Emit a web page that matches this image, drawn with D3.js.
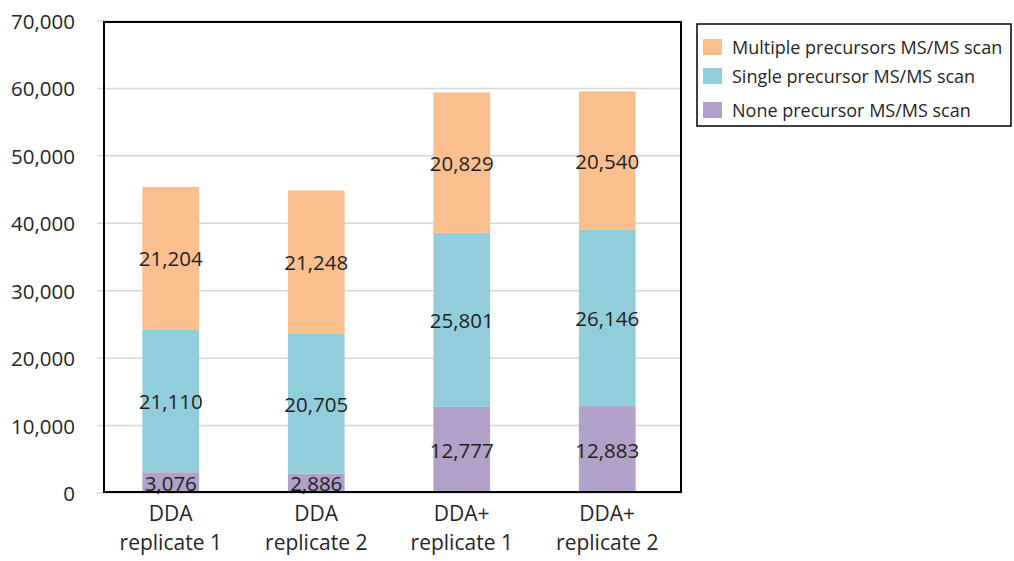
<!DOCTYPE html>
<html>
<head>
<meta charset="utf-8">
<script src="https://cdn.jsdelivr.net/npm/d3@7"></script>
<style>
  html, body { margin: 0; padding: 0; background: #fff; }
  svg { display: block; font-family: "Open Sans", "Noto Sans", sans-serif; }
</style>
</head>
<body>
<svg id="chart" width="1014" height="561"></svg>
<script>
// Scan counts per run, stacked from bottom to top
const categories = [["DDA", "replicate 1"], ["DDA", "replicate 2"], ["DDA+", "replicate 1"], ["DDA+", "replicate 2"]];
const noneValues = [3076, 2886, 12777, 12883];
const singleValues = [21110, 20705, 25801, 26146];
const multipleValues = [21204, 21248, 20829, 20540];
const seriesNames = ["None precursor MS/MS scan", "Single precursor MS/MS scan", "Multiple precursors MS/MS scan"];
const seriesColors = ["#b1a0c7", "#92cddc", "#fabf8f"];
const yTicks = [0, 10000, 20000, 30000, 40000, 50000, 60000, 70000];

const svg = d3.select("#chart");

const x = d3.scaleBand()
  .domain(d3.range(categories.length))
  .range([98, 680])
  .paddingInner(0.61)
  .paddingOuter(0.305);

const y = d3.scaleLinear().domain([0, 70000]).range([493, 21]);

// Gridlines
svg.append("g")
  .selectAll("line")
  .data(yTicks)
  .join("line")
  .attr("x1", 97).attr("x2", 680)
  .attr("y1", d => y(d)).attr("y2", d => y(d))
  .attr("stroke", "#d9d9d9").attr("stroke-width", 1.5);

// Y axis labels
const fmt = d3.format(",");
svg.append("g")
  .selectAll("text")
  .data(yTicks)
  .join("text")
  .attr("x", 75).attr("y", d => y(d))
  .attr("text-anchor", "end")
  .attr("dominant-baseline", "central")
  .attr("font-size", 20.5)
  .attr("fill", "#262626")
  .text(d => fmt(d));

// Stack the three series
const rows = categories.map((c, i) => ({ i, none: noneValues[i], single: singleValues[i], multiple: multipleValues[i] }));
const keys = ["none", "single", "multiple"];
const stacked = d3.stack().keys(keys)(rows);

const layers = svg.append("g")
  .selectAll("g")
  .data(stacked)
  .join("g")
  .attr("fill", (d, k) => seriesColors[k]);

layers.selectAll("rect")
  .data(d => d)
  .join("rect")
  .attr("x", d => x(d.data.i))
  .attr("width", x.bandwidth())
  .attr("y", d => y(d[1]))
  .attr("height", d => y(d[0]) - y(d[1]));

// Value labels centred on each segment
const labels = svg.append("g");
stacked.forEach(layer => {
  layer.forEach(d => {
    labels.append("text")
      .attr("x", x(d.data.i) + x.bandwidth() / 2)
      .attr("y", y((d[0] + d[1]) / 2))
      .attr("text-anchor", "middle")
      .attr("dominant-baseline", "central")
      .attr("font-size", 20.5)
      .attr("fill", "#1f1f1f")
      .text(fmt(d[1] - d[0]));
  });
});

// Plot frame
svg.append("rect")
  .attr("x", 104).attr("y", 22)
  .attr("width", 577).attr("height", 470)
  .attr("fill", "none").attr("stroke", "#000").attr("stroke-width", 2);

// Category labels, two lines each
const catG = svg.append("g");
categories.forEach((c, i) => {
  const cx = x(i) + x.bandwidth() / 2;
  catG.append("text")
    .attr("x", cx).attr("y", 521)
    .attr("text-anchor", "middle")
    .attr("font-size", 21).attr("fill", "#262626")
    .text(c[0]);
  catG.append("text")
    .attr("x", cx).attr("y", 550)
    .attr("text-anchor", "middle")
    .attr("font-size", 21).attr("fill", "#262626")
    .text(c[1]);
});

// Legend, listed top to bottom in reverse stacking order
const legend = svg.append("g");
legend.append("rect")
  .attr("x", 697).attr("y", 24)
  .attr("width", 314).attr("height", 102)
  .attr("fill", "#fff").attr("stroke", "#000").attr("stroke-width", 1.5);

const legendRows = [2, 1, 0];
const rowY = [47, 76, 110];
legendRows.forEach((k, r) => {
  legend.append("rect")
    .attr("x", 703).attr("y", rowY[r] - 8)
    .attr("width", 19).attr("height", 16)
    .attr("fill", seriesColors[k]);
  legend.append("text")
    .attr("x", 732).attr("y", rowY[r])
    .attr("dominant-baseline", "central")
    .attr("font-size", 18).attr("fill", "#262626")
    .text(seriesNames[k]);
});
</script>
</body>
</html>
